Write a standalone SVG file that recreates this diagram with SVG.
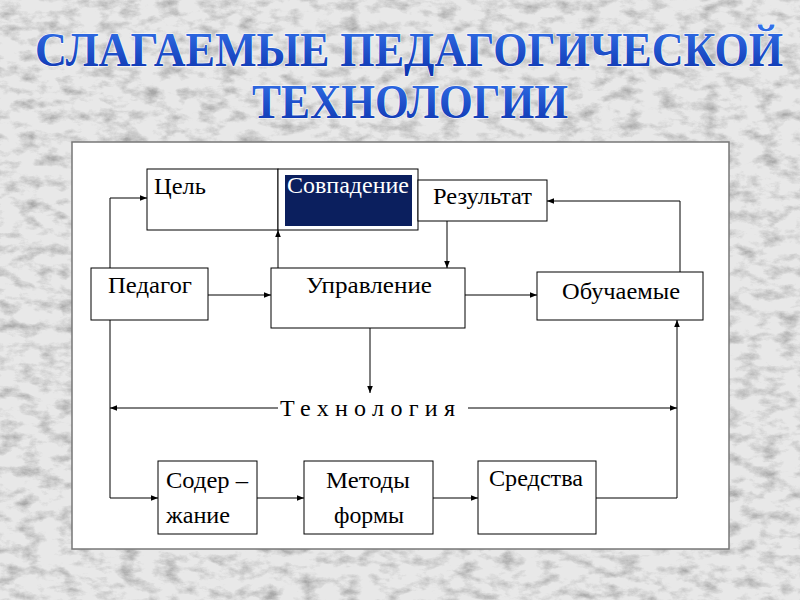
<svg xmlns="http://www.w3.org/2000/svg" width="800" height="600" viewBox="0 0 800 600">
<defs>
<filter id="marble" x="0" y="0" width="100%" height="100%">
<feTurbulence type="fractalNoise" baseFrequency="0.05 0.09" numOctaves="6" seed="23" result="n"/>
<feColorMatrix in="n" type="matrix" values="0 0 0 0 0  0 0 0 0 0  0 0 0 0 0  2.2 0 0 0 -0.98" result="a"/>
<feFlood flood-color="#a8a8a8" result="c"/>
<feComposite in="c" in2="a" operator="in" result="veins"/>
<feFlood flood-color="#e8e8e8" result="bg"/>
<feMerge><feMergeNode in="bg"/><feMergeNode in="veins"/></feMerge>
</filter>
<linearGradient id="tg" x1="0" y1="0" x2="0" y2="1">
<stop offset="0" stop-color="#3574ec"/>
<stop offset="1" stop-color="#0c32ad"/>
</linearGradient>
<marker id="ah" viewBox="0 0 10 10" refX="10" refY="5" markerWidth="7" markerHeight="7" markerUnits="userSpaceOnUse" orient="auto-start-reverse">
<path d="M0,1 L10,5 L0,9 z" fill="#000"/>
</marker>
<style>
.box{fill:#fff;stroke:#000;stroke-width:1}
.lbl{font-family:'Liberation Serif','Times New Roman',Times,serif;font-size:23px;fill:#000}
.lb2{font-family:'Liberation Serif','Times New Roman',Times,serif;font-size:24px;fill:#000}
.ln{fill:none;stroke:#000;stroke-width:1}
.ttl{font-family:'Liberation Serif','Times New Roman',serif;font-weight:bold;font-size:48px;fill:url(#tg);stroke:#fff;stroke-width:1.2;paint-order:stroke}
</style>
</defs>
<rect x="0" y="0" width="800" height="600" filter="url(#marble)"/>
<g id="title">
<text class="ttl" x="35" y="66" textLength="748" lengthAdjust="spacingAndGlyphs">СЛАГАЕМЫЕ ПЕДАГОГИЧЕСКОЙ</text>
<text class="ttl" x="252" y="118" textLength="316" lengthAdjust="spacingAndGlyphs">ТЕХНОЛОГИИ</text>
</g>
<rect x="72" y="142" width="657" height="407" fill="#fff" stroke="#777" stroke-width="1.5"/>
<g id="connectors">
<path class="ln" d="M110,268 V198 H147" marker-end="url(#ah)"/>
<path class="ln" d="M278,268 V230" marker-end="url(#ah)"/>
<path class="ln" d="M447,221 V268" marker-end="url(#ah)"/>
<path class="ln" d="M680,272 V201 H547" marker-end="url(#ah)"/>
<path class="ln" d="M208,295 H271" marker-end="url(#ah)"/>
<path class="ln" d="M465,295 H537" marker-end="url(#ah)"/>
<path class="ln" d="M370,328 V393" marker-end="url(#ah)"/>
<path class="ln" d="M278,408 H110" marker-end="url(#ah)"/>
<path class="ln" d="M468,408 H677" marker-end="url(#ah)"/>
<path class="ln" d="M110,320 V498 H158" marker-end="url(#ah)"/>
<path class="ln" d="M257,498 H304" marker-end="url(#ah)"/>
<path class="ln" d="M433,498 H478" marker-end="url(#ah)"/>
<path class="ln" d="M596,498 H677 V320" marker-end="url(#ah)"/>
<text class="lb2" x="280" y="416" textLength="175">Технология</text>
</g>
<g id="cel">
<rect class="box" x="147" y="169" width="131" height="61"/>
<text class="lbl" x="154" y="194" textLength="52" lengthAdjust="spacingAndGlyphs">Цель</text>
</g>
<g id="sovpadenie">
<rect class="box" x="278" y="169" width="140" height="61"/>
<rect x="285" y="175" width="127" height="51" fill="#0b1f5e"/>
<text class="lbl" x="287" y="193" textLength="122" lengthAdjust="spacingAndGlyphs" style="fill:#fff">Совпадение</text>
</g>
<g id="rezultat">
<rect class="box" x="418" y="180" width="129" height="41"/>
<text class="lbl" x="433" y="204" textLength="99" lengthAdjust="spacingAndGlyphs">Результат</text>
</g>
<g id="pedagog">
<rect class="box" x="91" y="268" width="117" height="52"/>
<text class="lbl" x="108" y="293" textLength="84" lengthAdjust="spacingAndGlyphs">Педагог</text>
</g>
<g id="upravlenie">
<rect class="box" x="271" y="268" width="194" height="60"/>
<text class="lbl" x="306" y="293" textLength="126" lengthAdjust="spacingAndGlyphs">Управление</text>
</g>
<g id="obuchaemye">
<rect class="box" x="537" y="272" width="166" height="48"/>
<text class="lbl" x="562" y="299" textLength="118" lengthAdjust="spacingAndGlyphs">Обучаемые</text>
</g>
<g id="soderzhanie">
<rect class="box" x="158" y="461" width="99" height="73"/>
<text class="lb2" x="166" y="488" textLength="82" lengthAdjust="spacingAndGlyphs">Содер –</text>
<text class="lb2" x="166" y="523" textLength="64" lengthAdjust="spacingAndGlyphs">жание</text>
</g>
<g id="metody">
<rect class="box" x="304" y="461" width="129" height="73"/>
<text class="lb2" x="326" y="488" textLength="84" lengthAdjust="spacingAndGlyphs">Методы</text>
<text class="lb2" x="334" y="523" textLength="70" lengthAdjust="spacingAndGlyphs">формы</text>
</g>
<g id="sredstva">
<rect class="box" x="478" y="461" width="118" height="73"/>
<text class="lb2" x="489" y="486" textLength="94" lengthAdjust="spacingAndGlyphs">Средства</text>
</g>
</svg>
